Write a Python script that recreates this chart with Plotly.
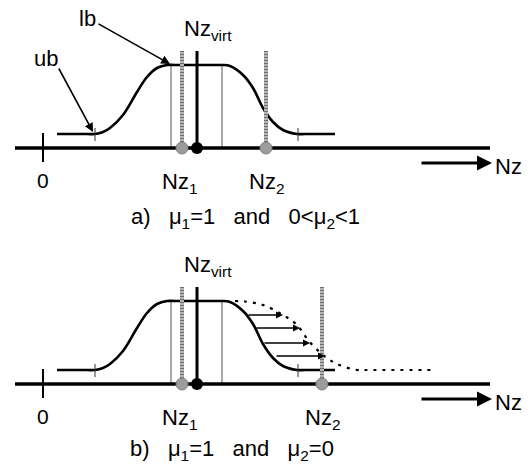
import plotly.graph_objects as go

# ---- values (Nz along x, bound value along y) ----
axis_from, axis_to = -2.8, 44.7          # extent of the Nz axis line
nz_1 = 13.9                               # first constraint position
nz_virt = 15.4                            # virtual point
nz_2_a = 22.3                             # second constraint, case a
nz_2_b = 27.9                             # second constraint, case b
plateau_edges = [12.8, 17.9]              # thin guides at the plateau ends
plateau_level = 8.3
curve_ticks = [5.2, 25.5]                 # small ticks on the bound curve
marker_top = 9.7                          # height of the constraint markers

# ub / lb bound curve
bound_x = [1.4, 4.4, 5.2, 6.0, 6.7, 8.0, 9.4, 10.4, 11.4, 12.4, 13.2,
           17.1, 17.9, 18.7, 20.0, 21.0, 22.0, 23.0, 24.0, 25.4, 26.2, 29.2]
bound_y = [1.4, 1.4, 1.4, 1.6, 2.0, 3.3, 5.6, 7.1, 8.0, 8.3, 8.3,
           8.3, 8.3, 8.2, 7.3, 6.0, 4.0, 2.6, 1.8, 1.4, 1.4, 1.4]

# shifted falling edge (case b)
shift_x = [19.2, 20.2, 22.0, 24.0, 25.4, 26.5, 28.0, 29.4, 31.4, 32.2, 39.2]
shift_y = [8.3, 8.25, 7.9, 6.9, 5.9, 4.4, 2.9, 2.0, 1.4, 1.4, 1.4]

# horizontal shift arrows (case b)
shift_arrow_y = [6.9, 5.6, 4.1, 2.8]
shift_arrow_from = [20.4, 21.2, 22.0, 23.2]
shift_arrow_to = [24.0, 25.7, 26.7, 28.2]

FONT = "Liberation Sans, Arial, sans-serif"
GRAY = "#9c9c9c"
GAP = "&nbsp;&nbsp;&nbsp;"
fig = go.Figure()


def line(x, y, yref, color="black", width=2.5, dash="solid", shape="linear"):
    fig.add_trace(go.Scatter(
        x=x, y=y, mode="lines", yaxis=yref,
        line=dict(color=color, width=width, dash=dash, shape=shape, smoothing=1.0),
        hoverinfo="skip", showlegend=False))


def text(x, y, s, yref, size=22, xanchor="center"):
    fig.add_annotation(x=x, y=y, xref="x", yref=yref, text=s, showarrow=False,
                       xanchor=xanchor, yanchor="middle",
                       font=dict(family=FONT, size=size, color="black"))


def arrow(x0, y0, x1, y1, yref, width=1.5, size=1.0):
    fig.add_annotation(x=x1, y=y1, ax=x0, ay=y0, xref="x", yref=yref,
                       axref="x", ayref=yref, text="", showarrow=True,
                       arrowhead=2, arrowsize=size, arrowwidth=width,
                       arrowcolor="black", standoff=0)


def panel(yref, nz_2):
    # thin guides at plateau ends
    for xe in plateau_edges:
        line([xe, xe], [0, plateau_level], yref, color="#555555", width=1)
    # bound curve
    line(bound_x, bound_y, yref, width=2.6, shape="spline")
    for xt in curve_ticks:
        line([xt, xt], [0.7, 2.0], yref, color="#333333", width=1)
    # constraint markers
    for xv in (nz_1, nz_2):
        line([xv, xv], [0, marker_top], yref, color="#b4b4b4", width=4)
        line([xv, xv], [0, marker_top], yref, color="#6e6e6e", width=4, dash="1px,2px")
    line([nz_virt, nz_virt], [0, marker_top], yref, width=3)
    # Nz axis
    line([axis_from, axis_to], [0, 0], yref, width=3.5)
    line([0, 0], [1.5, -1.4], yref, width=2)
    fig.add_trace(go.Scatter(
        x=[nz_1, nz_2], y=[0, 0], mode="markers", yaxis=yref,
        marker=dict(size=12, color=GRAY, line=dict(color="#808080", width=1)),
        hoverinfo="skip", showlegend=False))
    fig.add_trace(go.Scatter(
        x=[nz_virt], y=[0], mode="markers", yaxis=yref,
        marker=dict(size=12, color="black"),
        hoverinfo="skip", showlegend=False))
    # direction arrow and labels
    arrow(37.7, -1.5, 44.9, -1.5, yref, width=3, size=1.0)
    text(45.0, -1.8, "Nz", yref, xanchor="left")
    text(0, -3.2, "0", yref, size=21)
    text(13.6, -3.5, "Nz<sub>1</sub>", yref)
    text(nz_2, -3.5, "Nz<sub>2</sub>", yref)
    text(16.5, 11.8, "Nz<sub>virt</sub>", yref)


# ---- case a ----
panel("y", nz_2_a)
text(4.4, 13.0, "lb", "y")
text(0.3, 9.0, "ub", "y")
arrow(5.4, 12.5, 12.7, 8.4, "y", width=1.6, size=1.1)
arrow(1.5, 8.1, 5.0, 1.6, "y", width=1.6, size=1.1)
text(20.2, -7.0, f"a){GAP}μ<sub>1</sub>=1{GAP}and{GAP}0&lt;μ<sub>2</sub>&lt;1", "y")

# ---- case b ----
line(shift_x, shift_y, "y2", width=2.2, dash="3px,6px", shape="spline")
panel("y2", nz_2_b)
for yy, x0, x1 in zip(shift_arrow_y, shift_arrow_from, shift_arrow_to):
    arrow(x0, yy, x1, yy, "y2", width=1.4, size=1.0)
text(18.9, -6.6, f"b){GAP}μ<sub>1</sub>=1{GAP}and{GAP}μ<sub>2</sub>=0", "y2")

fig.update_layout(
    width=531, height=474,
    margin=dict(l=0, r=0, t=0, b=0),
    paper_bgcolor="white", plot_bgcolor="white",
    xaxis=dict(range=[-4.3, 48.8], visible=False, fixedrange=True),
    yaxis=dict(range=[-32.6, 14.8], visible=False, fixedrange=True),
    yaxis2=dict(range=[-9.0, 38.4], visible=False, overlaying="y", fixedrange=True),
)

fig.write_html("out.html")
